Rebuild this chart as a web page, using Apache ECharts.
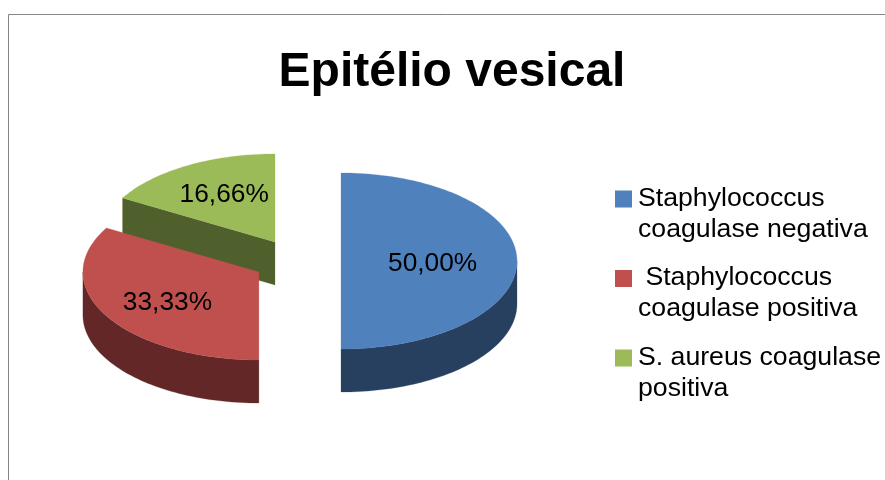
<!DOCTYPE html>
<html>
<head>
<meta charset="utf-8">
<style>html,body{margin:0;padding:0;background:#fff}#c{width:885px;height:480px}</style>
<script src="https://cdn.jsdelivr.net/npm/echarts@6/dist/echarts.min.js"></script>
</head>
<body>
<div id="c"></div>
<script>
var chartTitle = 'Epitélio vesical';
var categories = ['Staphylococcus\ncoagulase negativa', ' Staphylococcus\ncoagulase positiva', 'S. aureus coagulase\npositiva'];
var values = [50.00, 33.33, 16.66];
var topColors = ['#4F81BD', '#C0504D', '#9BBB59'];
var sideColors = ['#28405F', '#622726', '#4F602C'];

var FONT = '"Liberation Sans", Arial, sans-serif';
var CX = 297, CY = 261, RX = 176, RY = 88, DEPTH = 43, EXPLODE = 44;
var LABEL_RADIUS = 0.6;
var LABEL_NUDGE = [[-14, 3], [0, 4], [2, -1]];
var total = 100; // full circle of the pie, in percent
var D2R = Math.PI / 180;

function pt(c, deg, f, dz) {
  return [c[0] + RX * f * Math.sin(deg * D2R), c[1] - RY * f * Math.cos(deg * D2R) + (dz || 0)];
}
function arc(c, a, b, dz) {
  var pts = [], n = Math.max(2, Math.ceil(Math.abs(b - a) / 1.5));
  for (var i = 0; i <= n; i++) pts.push(pt(c, a + (b - a) * i / n, 1, dz));
  return pts;
}
function poly(points, color, z2) {
  return {
    type: 'polygon', z2: z2,
    shape: { points: points },
    style: { fill: color, stroke: color, lineWidth: 0.25 }
  };
}
function renderSlice(params, api) {
  var i = params.seriesIndex, start = 0;
  for (var k = 0; k < i; k++) start += values[k];
  var a0 = start / total * 360, a1 = a0 + api.value(0) / total * 360;
  if (i === values.length - 1) a1 = 360;
  var mid = (a0 + a1) / 2;
  var c = pt([CX, CY], mid, EXPLODE / RX, 0);
  var children = [];
  var side = sideColors[i], top = api.visual('color');
  // visible cut faces
  if (Math.sin(a0 * D2R) < -1e-6) {
    var p = pt(c, a0, 1);
    children.push(poly([c, p, [p[0], p[1] + DEPTH], [c[0], c[1] + DEPTH]], side, 1));
  }
  if (Math.sin(a1 * D2R) > 1e-6) {
    var q = pt(c, a1, 1);
    children.push(poly([c, q, [q[0], q[1] + DEPTH], [c[0], c[1] + DEPTH]], side, 1));
  }
  // outer rim (front half of the ellipse only)
  var r0 = Math.max(a0, 90), r1 = Math.min(a1, 270);
  if (r1 > r0) {
    children.push(poly(arc(c, r0, r1, 0).concat(arc(c, r1, r0, DEPTH)), side, 1));
  }
  // top face
  children.push(poly([c].concat(arc(c, a0, a1, 0)), top, 2));
  // value label
  var lp = pt(c, mid, LABEL_RADIUS, 0);
  children.push({
    type: 'text', z2: 3,
    style: {
      x: lp[0] + LABEL_NUDGE[i][0], y: lp[1] + LABEL_NUDGE[i][1],
      text: api.value(0).toFixed(2).replace('.', ',') + '%',
      align: 'center', verticalAlign: 'middle',
      fontFamily: FONT, fontSize: 26.3, fill: '#000'
    }
  });
  return { type: 'group', children: children };
}

var legendIcon = 'path://M0 0H0.01V0.01H0ZM0 7.5H17V24.5H0ZM0 62H0.01V61.99H0Z';

var option = {
  animation: false,
  backgroundColor: '#fff',
  title: {
    text: chartTitle, left: 447, top: 44, textAlign: 'center',
    textStyle: { fontFamily: FONT, fontSize: 48, fontWeight: 'bold', color: '#000' }
  },
  legend: {
    orient: 'vertical', left: 615, top: 183, padding: 0, itemGap: 17.5, itemWidth: 17, itemHeight: 62,
    icon: legendIcon, align: 'left', selectedMode: false,
    data: categories,
    textStyle: { fontFamily: FONT, fontSize: 26.67, lineHeight: 31, color: '#000', padding: [0, 0, 0, 1] }
  },
  graphic: [{
    type: 'polyline', silent: true,
    shape: { points: [[8.5, 480], [8.5, 14.5], [885, 14.5]] },
    style: { fill: 'none', stroke: '#868686', lineWidth: 1 }
  }],
  series: categories.map(function (name, i) {
    return {
      type: 'custom', name: name, coordinateSystem: 'none', silent: true,
      z: 10 + (values.length - i),
      itemStyle: { color: topColors[i] },
      data: [[values[i]]],
      renderItem: renderSlice
    };
  })
};
echarts.init(document.getElementById('c'), null, { renderer: 'canvas' }).setOption(option);
</script>
</body>
</html>
